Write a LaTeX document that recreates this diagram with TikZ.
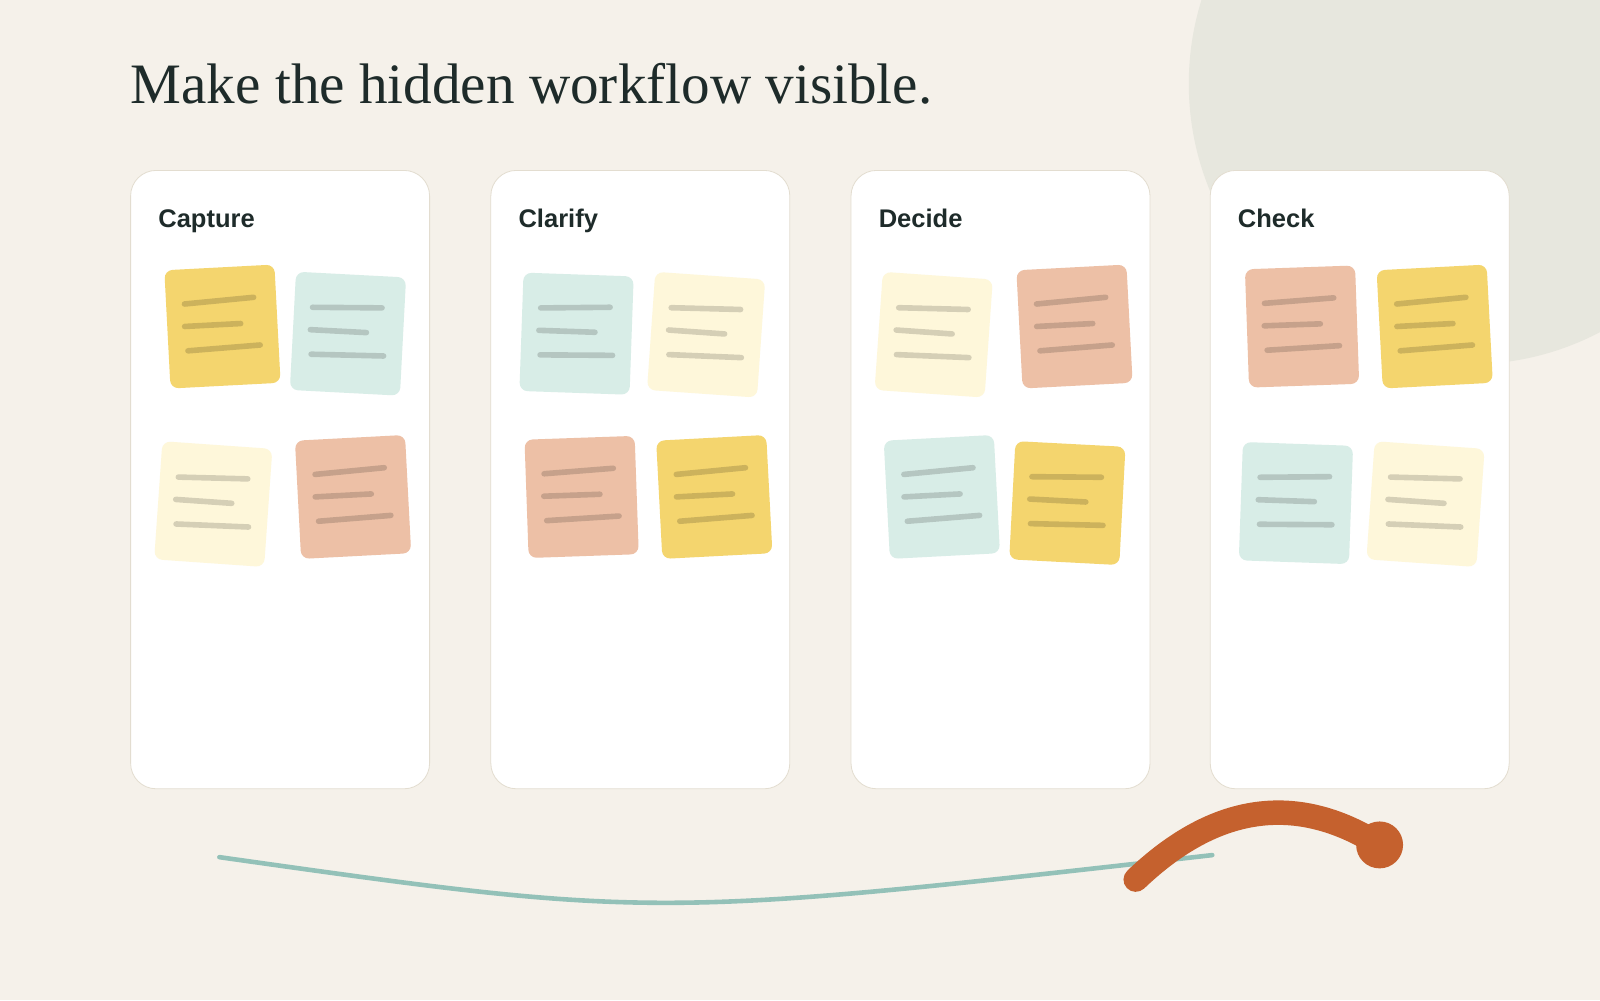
\documentclass[tikz,border=0pt]{standalone}
\usepackage{fontspec}
\setmainfont{Liberation Serif}
\setsansfont{Liberation Sans}
\begin{document}
\begin{tikzpicture}[x=1pt,y=-1pt,
  card/.style={draw=cardline,fill=white,rounded corners=25pt,line width=0.8pt},
  head/.style={anchor=base west,font=\sffamily\bfseries\fontsize{25}{28}\selectfont,text=ink,inner sep=0pt},
  noteline/.style={line width=5.5pt,line cap=round,draw=black,draw opacity=0.16}]
\definecolor{bg}{HTML}{F5F1EA}
\definecolor{blob}{HTML}{E7E7DE}
\definecolor{cardline}{HTML}{E3DDD0}
\definecolor{ink}{HTML}{1E2B2A}
\definecolor{nyel}{HTML}{F4D56E}
\definecolor{nmint}{HTML}{D8EDE7}
\definecolor{ncream}{HTML}{FEF7DA}
\definecolor{nsal}{HTML}{EDC0A6}
\definecolor{teal}{HTML}{93C1B8}
\definecolor{rust}{HTML}{C5612E}
\path[fill=bg] (0,0) rectangle (1568,980);
\useasboundingbox (0,0) rectangle (1568,980);
\begin{scope}
\clip (0,0) rectangle (1568,980);
\fill[blob] (1440,82) circle (275);
\end{scope}
\node[anchor=base west,inner sep=0pt,text=ink,font=\fontsize{56}{60}\selectfont] (title) at (128,101) {Make the hidden workflow visible.};
\foreach \x/\t [count=\i] in {128/Capture,481/Clarify,834/Decide,1186/Check}{
  \draw[card] (\x,167) rectangle +(293,606);
  \node[head] (h\i) at (\x+27,223) {\t};
}
\newcommand{\stickynote}[4]{%
  \begin{scope}[shift={(#1,#2)},rotate=#3]
    \fill[#4,rounded corners=8pt] (-54,-58) rectangle (54,58);
    \draw[noteline] (-36,-24) -- (32,-27);
    \draw[noteline] (-37,-2) -- (18,-2);
    \draw[noteline] (-35,22) -- (36,20);
  \end{scope}}
\stickynote{218}{320}{3}{nyel}
\stickynote{341}{327}{-3}{nmint}
\stickynote{209}{494}{-4}{ncream}
\stickynote{346}{487}{3}{nsal}
\stickynote{565}{327}{-2}{nmint}
\stickynote{692}{328}{-4}{ncream}
\stickynote{570}{487}{2}{nsal}
\stickynote{700}{487}{3}{nyel}
\stickynote{915}{328}{-4}{ncream}
\stickynote{1053}{320}{3}{nsal}
\stickynote{923}{487}{3}{nmint}
\stickynote{1046}{493}{-3}{nyel}
\stickynote{1276}{320}{2}{nsal}
\stickynote{1406}{320}{3}{nyel}
\stickynote{1270}{493}{-2}{nmint}
\stickynote{1397}{494}{-4}{ncream}
\coordinate (ta) at (215,840);
\coordinate (tb) at (1188,838);
\draw[teal,line width=4.5pt,line cap=round] (ta) .. controls (640,900) .. (tb);
\coordinate (ra) at (1113,862);
\coordinate (rb) at (1352,828);
\draw[rust,line width=24pt,line cap=round] (ra) .. controls (1180,798) and (1260,770) .. (rb);
\fill[rust] (rb) circle (23);
\end{tikzpicture}
\end{document}
